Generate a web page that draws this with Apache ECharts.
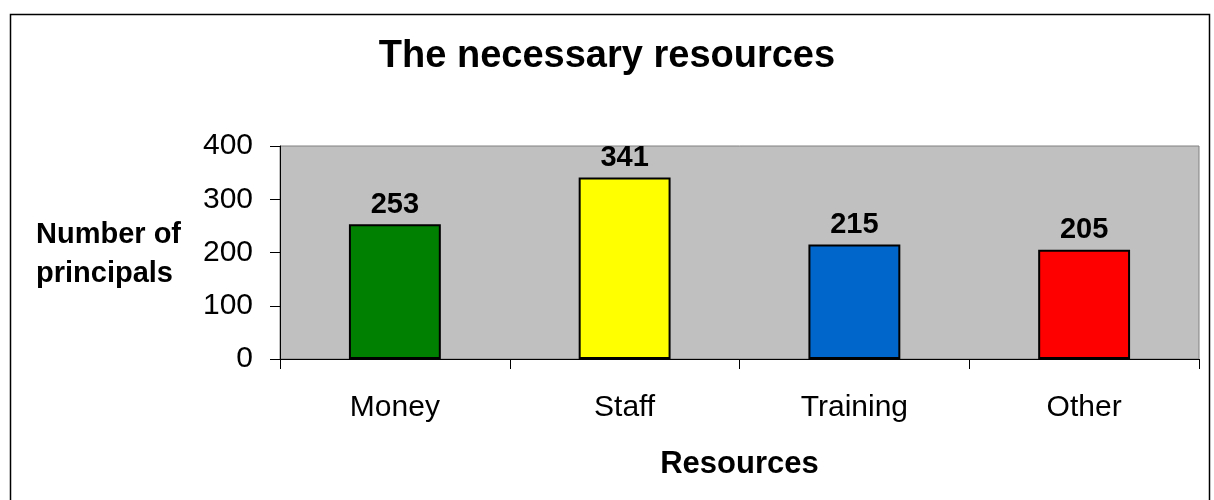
<!DOCTYPE html>
<html>
<head>
<meta charset="utf-8">
<style>html,body{margin:0;padding:0;background:#fff}#c{width:1214px;height:500px}</style>
<script src="https://cdn.jsdelivr.net/npm/echarts@6/dist/echarts.min.js"></script>
</head>
<body>
<div id="c"></div>
<script>
const categories = ['Money', 'Staff', 'Training', 'Other'];
const values = [253, 341, 215, 205];
const barColors = ['#008000', '#ffff00', '#0066cc', '#ff0000'];
const yTicks = [0, 100, 200, 300, 400];

const chart = echarts.init(document.getElementById('c'));
const F = 'Liberation Sans, Arial, sans-serif';
chart.setOption({
  animation: false,
  graphic: [
    { type: 'rect', left: 8, top: 12, shape: { width: 1199, height: 500 }, style: { fill: 'none', stroke: '#000', lineWidth: 1.5 }, z: -10 },
    { type: 'text', left: 36, top: 215, style: { text: 'Number of\nprincipals', font: 'bold 29px ' + F, fill: '#000', align: 'center', lineHeight: 39 } }
  ],
  title: {
    text: 'The necessary resources', left: 'center', top: 33,
    textStyle: { fontFamily: F, fontSize: 38, fontWeight: 'bold', color: '#000' }
  },
  grid: { left: 280, right: 15, top: 146, bottom: 141, show: true, backgroundColor: '#c0c0c0', borderColor: '#808080', borderWidth: 1 },
  xAxis: {
    type: 'category', data: categories,
    name: 'Resources', nameLocation: 'middle', nameGap: 90,
    nameTextStyle: { fontFamily: F, fontSize: 31, fontWeight: 'bold', color: '#000' },
    axisLine: { lineStyle: { color: '#000', width: 1 } },
    axisTick: { show: true, length: 10, lineStyle: { color: '#000' } },
    axisLabel: { fontFamily: F, fontSize: 30, color: '#000', margin: 34 }
  },
  yAxis: {
    type: 'value', min: yTicks[0], max: yTicks[yTicks.length - 1], interval: 100,
    axisLine: { show: true, lineStyle: { color: '#000', width: 1 } },
    axisTick: { show: true, length: 10, lineStyle: { color: '#000' } },
    axisLabel: { fontFamily: F, fontSize: 30, color: '#000', margin: 27 },
    splitLine: { show: false }
  },
  series: [{
    type: 'bar', barWidth: '40%',
    data: values.map((v, i) => ({ value: v, itemStyle: { color: barColors[i] } })),
    itemStyle: { borderColor: '#000', borderWidth: 2 },
    label: { show: true, position: 'top', distance: 5, fontFamily: F, fontSize: 29, fontWeight: 'bold', color: '#000' }
  }]
});
</script>
</body>
</html>
